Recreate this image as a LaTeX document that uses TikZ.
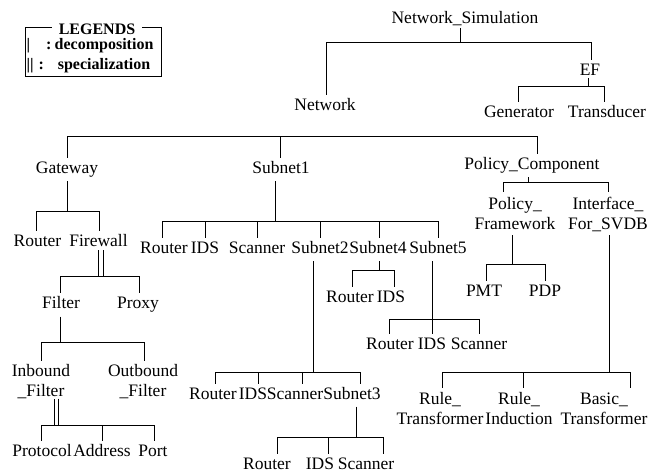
\documentclass[tikz,border=0pt]{standalone}
\usepackage{fontspec}
\setmainfont{Liberation Serif}

% bus of a tree level: horizontal bar at height #2 through the parent
% point #1, with a drop to every child (name/xshift pairs in #3)
\newcommand\treebus[3]{%
  \foreach \c/\dx in {#3}{%
    \path ([xshift=\dx bp]\c.north) coordinate (tc);
    \draw (#1 |- 0,#2) -| (tc);
  }%
}

\begin{document}
\begin{tikzpicture}[x=1bp,y=-1bp,line width=1bp,
  lbl/.style={inner sep=0pt, outer sep=0pt, minimum height=23bp,
    text height=12bp, text depth=4bp,
    font=\fontsize{17.5bp}{20bp}\selectfont},
  lbltwo/.style={inner sep=0pt, outer sep=0pt, minimum height=43bp,
    align=center, font=\fontsize{17.5bp}{20bp}\selectfont},
  legfont/.style={font=\fontsize{16bp}{18bp}\selectfont\bfseries},
  legtext/.style={legfont, inner sep=0pt, anchor=west},
  spec/.style={double distance=3.4bp, line width=0.9bp}
]
\useasboundingbox (0,0) rectangle (650,473);

% ---------- legend ----------
\draw (25,28) rectangle (161,77);
\node[legfont, fill=white, inner xsep=7bp, inner ysep=1bp] (leg) at (97,29) {LEGENDS};
\node[legtext] (ldec) at (26,46) {|\hspace{16bp}:\hspace{3.4bp}decomposition};
\node[legtext] (lspec) at (26,66) {||\hspace{5.2bp}:\hspace{13.8bp}specialization};

% ---------- labels ----------
\node[lbl] (ns) at (465,20) {Network\_Simulation};
\node[lbl] (net) at (325,107) {Network};
\node[lbl] (ef) at (590,72) {EF};
\node[lbl] (gen) at (519,114) {Generator};
\node[lbl] (trans) at (607,114) {Transducer};

\node[lbl] (gw) at (67,170) {Gateway};
\node[lbl] (sn1) at (281,170) {Subnet1};
\node[lbl] (pc) at (532,166) {Policy\_Component};

\node[lbl] (r1) at (37.5,243) {Router};
\node[lbl] (fw) at (98.5,243) {Firewall};
\node[lbl] (filt) at (61,305) {Filter};
\node[lbl] (proxy) at (138,305) {Proxy};
\node[lbltwo] (inb) at (41,382) {Inbound\\\_Filter};
\node[lbltwo] (outb) at (143,382) {Outbound\\\_Filter};
\node[lbl] (proto) at (42,452) {Protocol};
\node[lbl] (addr) at (102,452) {Address};
\node[lbl] (port) at (153,452) {Port};

\node[lbl] (s1r) at (164,250) {Router};
\node[lbl] (s1i) at (205,250) {IDS};
\node[lbl] (s1s) at (257,250) {Scanner};
\node[lbl] (sn2) at (320,250) {Subnet2};
\node[lbl] (sn4) at (378,250) {Subnet4};
\node[lbl] (sn5) at (438,250) {Subnet5};

\node[lbl] (s2r) at (213,395) {Router};
\node[lbl] (s2i) at (253,395) {IDS};
\node[lbl] (s2s) at (295,395) {Scanner};
\node[lbl] (sn3) at (352,395) {Subnet3};

\node[lbl] (s3r) at (267,465) {Router};
\node[lbl] (s3i) at (320,465) {IDS};
\node[lbl] (s3s) at (366,465) {Scanner};

\node[lbl] (s4r) at (350,299) {Router};
\node[lbl] (s4i) at (391,299) {IDS};

\node[lbl] (s5r) at (390,345) {Router};
\node[lbl] (s5i) at (432,345) {IDS};
\node[lbl] (s5s) at (479,345) {Scanner};

\node[lbltwo] (pf) at (515,214) {Policy\_\\Framework};
\node[lbltwo] (ifc) at (608,214) {Interface\_\\For\_SVDB};
\node[lbl] (pmt) at (484,293) {PMT};
\node[lbl] (pdp) at (545,293) {PDP};

\node[lbltwo] (rt) at (440,409) {Rule\_\\Transformer};
\node[lbltwo] (ri) at (519,409) {Rule\_\\Induction};
\node[lbltwo] (bt) at (604,409) {Basic\_\\Transformer};

% ---------- decomposition links ----------
\coordinate (pns) at ([xshift=-5bp,yshift=3.5bp]ns.south);
\draw (pns) -- (pns |- 0,43);
\treebus{pns}{43}{net/1, ef/1}

\coordinate (pef) at ([xshift=-2bp,yshift=5bp]ef.south);
\draw (pef) -- (pef |- 0,87);
\treebus{pef}{87}{gen/-1, trans/-3}

\coordinate (pnet) at (net.south);
\treebus{pnet}{137}{gw/0, sn1/-1, pc/5}

\coordinate (pgw) at (gw.south);
\draw (pgw) -- (pgw |- 0,212);
\treebus{pgw}{212}{r1/-1.5, fw/0.5}

\coordinate (pfilt) at ([xshift=-1bp]filt.south);
\draw (pfilt) -- (pfilt |- 0,342);
\treebus{pfilt}{342}{inb/0, outb/1}

\coordinate (psn1) at ([xshift=-6bp]sn1.south);
\draw (psn1) -- (psn1 |- 0,222);
\treebus{psn1}{222}{s1r/-2, s1i/0, s1s/0, sn2/0, sn4/1, sn5/0}

\coordinate (psn2) at ([xshift=-7bp]sn2.south);
\draw (psn2) -- (psn2 |- 0,372);
\treebus{psn2}{372}{s2r/2, s2i/5, s2s/7, sn3/8}

\coordinate (psn3) at ([xshift=4bp]sn3.south);
\draw (psn3) -- (psn3 |- 0,437);
\treebus{psn3}{437}{s3r/10, s3i/8, s3s/17}

\coordinate (psn4) at ([xshift=1bp]sn4.south);
\draw (psn4) -- (psn4 |- 0,271);
\treebus{psn4}{271}{s4r/2, s4i/3}

\coordinate (psn5) at ([xshift=-6bp]sn5.south);
\draw (psn5) -- (psn5 |- 0,319);
\treebus{psn5}{319}{s5r/-1, s5i/0, s5s/0}

\coordinate (ppc) at ([xshift=-4bp]pc.south);
\draw (ppc) -- (ppc |- 0,183);
\treebus{ppc}{183}{pf/-12, ifc/0}

\coordinate (ppf) at ([xshift=-3bp]pf.south);
\draw (ppf) -- (ppf |- 0,265);
\treebus{ppf}{265}{pmt/2, pdp/0}

\coordinate (pifc) at ([xshift=1bp]ifc.south);
\draw (pifc) -- (pifc |- 0,372);
\treebus{pifc}{372}{rt/2, ri/4, bt/26}

% ---------- specialization links ----------
\coordinate (pfw) at ([xshift=2.5bp,yshift=4bp]fw.south);
\draw[spec] (pfw) -- (pfw |- 0,277);
\treebus{pfw}{277}{filt/-1, proxy/1}

\coordinate (pinb) at ([xshift=15.5bp,yshift=5bp]inb.south);
\draw[spec] (pinb) -- (pinb |- 0,425);
\treebus{pinb}{425}{proto/-1, addr/0, port/1}
\end{tikzpicture}
\end{document}
